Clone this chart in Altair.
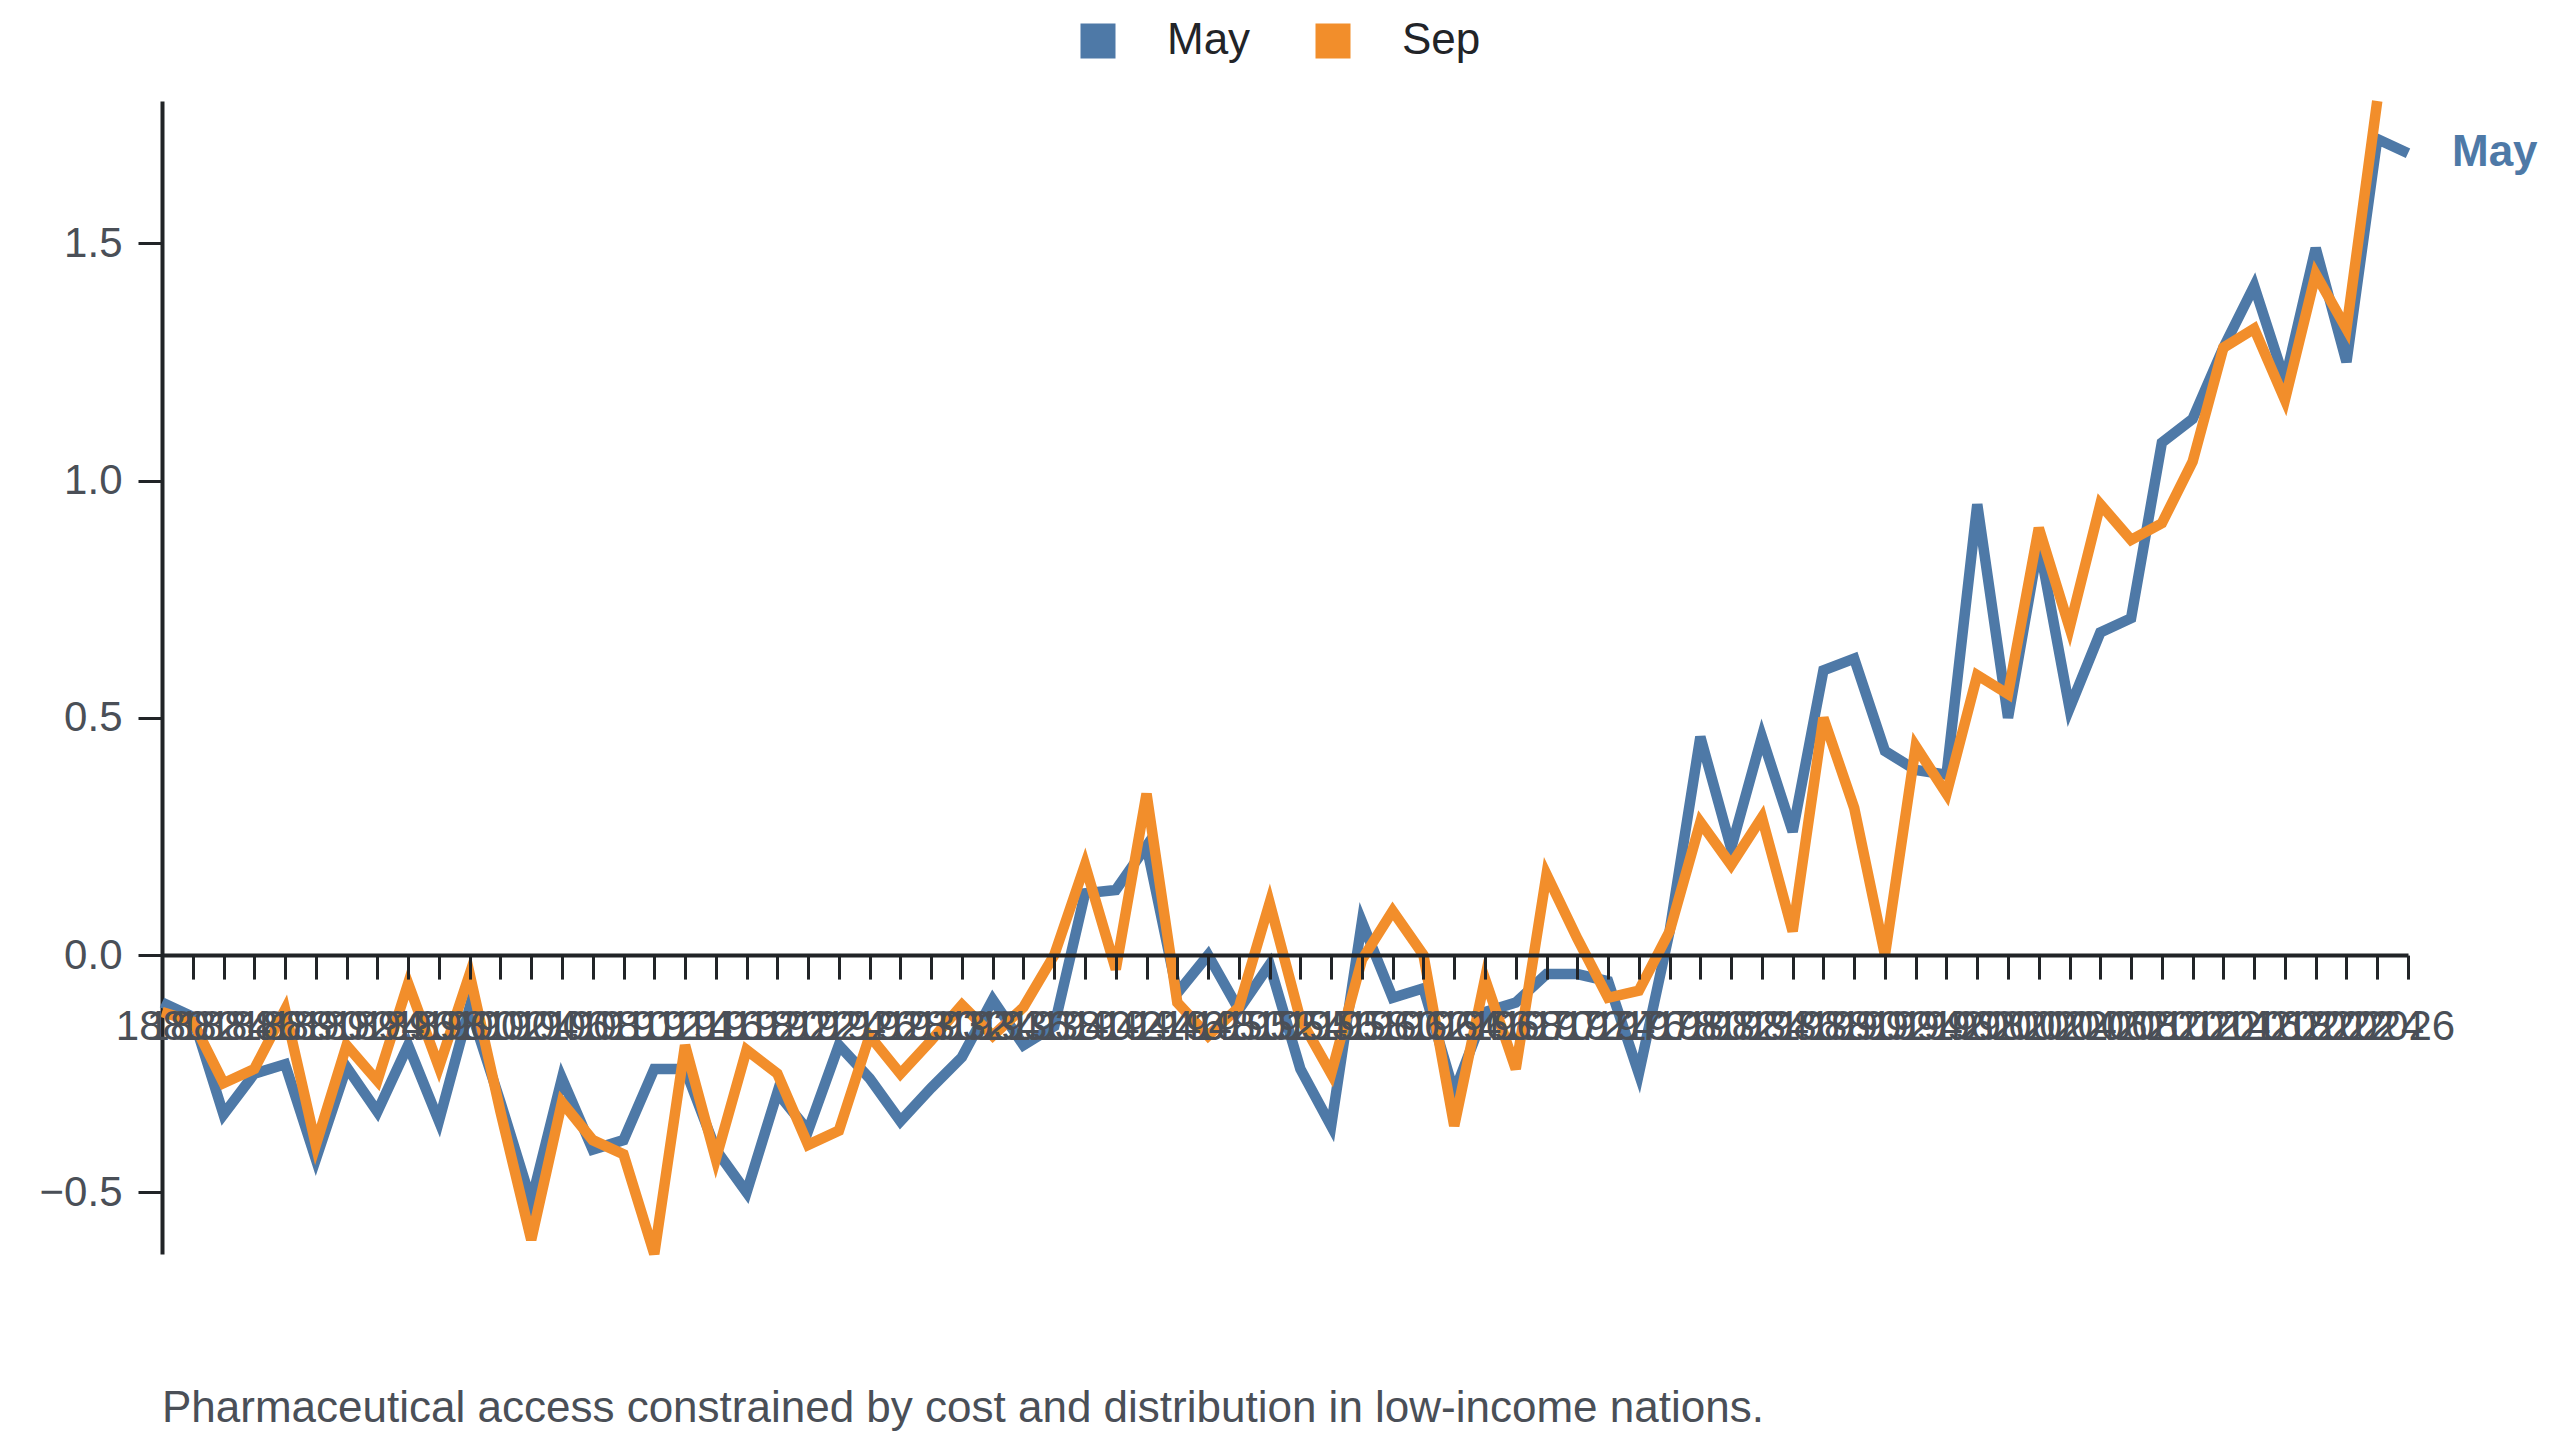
import altair as alt
import pandas as pd

YEARS = list(range(1880, 2027, 2))

MAY = [
    -0.10, -0.13, -0.336, -0.25, -0.23, -0.43, -0.236, -0.33, -0.19, -0.35,
    -0.11, -0.31, -0.52, -0.26, -0.41, -0.39, -0.24, -0.24, -0.41, -0.50,
    -0.29, -0.37, -0.19, -0.26, -0.35, -0.28, -0.215, -0.094, -0.19, -0.15,
    0.13, 0.137, 0.23, -0.08, 0.0, -0.115, -0.02, -0.24, -0.36, 0.07,
    -0.09, -0.07, -0.29, -0.12, -0.10, -0.04, -0.04, -0.055, -0.25, 0.05,
    0.46, 0.225, 0.46, 0.26, 0.60, 0.625, 0.43, 0.39, 0.38, 0.95,
    0.50, 0.87, 0.52, 0.68, 0.71, 1.08, 1.13, 1.28, 1.41, 1.21,
    1.49, 1.25, 1.72, 1.69,
]

SEP = [
    -0.12, -0.14, -0.27, -0.24, -0.115, -0.40, -0.19, -0.265, -0.06, -0.236,
    -0.04, -0.33, -0.60, -0.31, -0.39, -0.42, -0.63, -0.19, -0.43, -0.20,
    -0.25, -0.40, -0.37, -0.17, -0.25, -0.18, -0.105, -0.17, -0.11, 0.0,
    0.19, -0.03, 0.34, -0.10, -0.17, -0.11, 0.11, -0.135, -0.25, -0.01,
    0.093, 0.0, -0.36, -0.05, -0.24, 0.17, 0.035, -0.09, -0.075, 0.05,
    0.28, 0.19, 0.29, 0.05, 0.50, 0.31, 0.0, 0.44, 0.34, 0.59,
    0.55, 0.90, 0.69, 0.95, 0.875, 0.91, 1.04, 1.28, 1.32, 1.17,
    1.435, 1.32, 1.80,
]

SERIES = ["May", "Sep"]
COLORS = ["#4e79a7", "#f28e2b"]
Y_TICKS = [-0.5, 0.0, 0.5, 1.0, 1.5]
CAPTION = "Pharmaceutical access constrained by cost and distribution in low-income nations."

rows = [{"year": y, "value": v, "series": "May"} for y, v in zip(YEARS, MAY)]
rows += [{"year": y, "value": v, "series": "Sep"} for y, v in zip(YEARS, SEP)]
df = pd.DataFrame(rows)
last = pd.DataFrame([{"year": YEARS[len(MAY) - 1], "value": MAY[-1], "series": "May"}])

W, H = 2246, 1153
all_vals = MAY + SEP
ymin, ymax = min(all_vals), max(all_vals)
zero_offset = -H * (0 - ymin) / (ymax - ymin)

FONT = "Liberation Sans"

x = alt.X(
    "year:Q",
    scale=alt.Scale(domain=[YEARS[0], YEARS[-1]], nice=False, zero=False),
    axis=alt.Axis(
        values=YEARS, tickCount=len(YEARS) + 10, format="d",
        labelOverlap=False, labelFlush=False,
        title=None, grid=False, offset=zero_offset, zindex=1,
        tickSize=24, tickWidth=3, domainWidth=4, labelPadding=27,
        labelFontSize=42, labelFont=FONT, labelColor="#4a4f57",
        domainColor="#212427", tickColor="#212427",
    ),
)
y = alt.Y(
    "value:Q",
    scale=alt.Scale(domain=[ymin, ymax], nice=False, zero=False),
    axis=alt.Axis(
        values=Y_TICKS, format=".1f", title=None, grid=False,
        tickSize=24, tickWidth=3, domainWidth=4, labelPadding=16,
        labelFontSize=42, labelFont=FONT, labelColor="#4a4f57",
        domainColor="#212427", tickColor="#212427",
    ),
)
color_scale = alt.Scale(domain=SERIES, range=COLORS)

lines = alt.Chart(df).mark_line(strokeWidth=10.5, strokeJoin="miter", strokeCap="butt").encode(
    x=x, y=y, color=alt.Color("series:N", scale=color_scale, legend=None)
)

# legend carrier: filled squares, no rows drawn
legend_layer = alt.Chart(df).transform_filter("datum.year < 0").mark_square(
    filled=True, opacity=1
).encode(
    x="year:Q", y="value:Q",
    color=alt.Color(
        "series:N", scale=color_scale,
        legend=alt.Legend(
            title=None, orient="none", direction="horizontal",
            legendX=914, legendY=-82, padding=0,
            symbolType="square", symbolSize=1225, symbolStrokeWidth=0,
            labelFontSize=44, labelFont=FONT, labelColor="#222428",
            labelOffset=47, columnPadding=60,
        ),
    ),
)

label = alt.Chart(last).mark_text(
    align="left", baseline="middle", dx=44, fontSize=44, fontWeight="bold",
    font=FONT, color=COLORS[0],
).encode(x="year:Q", y="value:Q", text="series:N")

chart = alt.layer(lines, legend_layer, label).resolve_legend(
    color="independent"
).properties(
    width=W, height=H,
    title=alt.TitleParams(
        CAPTION, orient="bottom", anchor="start", frame="group", offset=112,
        fontSize=44, font=FONT, fontWeight="normal", color="#4a4f57",
    ),
    autosize=alt.AutoSizeParams(type="none"),
    padding={"left": 154, "top": 93, "right": 140, "bottom": 180},
).configure_view(stroke=None)

chart.save("out.html", embed_options={"renderer": "svg", "actions": False})
